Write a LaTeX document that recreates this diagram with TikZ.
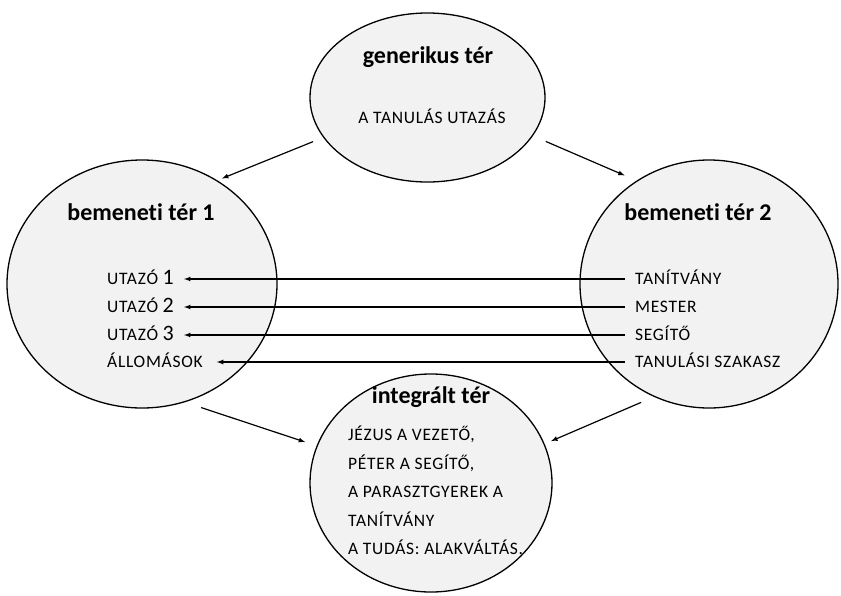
\documentclass[tikz,border=0pt]{standalone}
\usepackage{fontspec}
\setmainfont{Carlito}[Ligatures=NoCommon]
\newfontfamily\capsfont{Carlito}[LetterSpace=4,Ligatures=NoCommon]
\usepackage{tikz}
\usetikzlibrary{shapes.geometric,arrows}
\definecolor{spacegray}{HTML}{F2F2F2}
\newcommand\bignum[1]{{\fontsize{22}{22}\selectfont #1}}

\begin{document}
\begin{tikzpicture}[x=1pt,y=-1pt]
          \useasboundingbox (0,0) rectangle (841,595);
          \tikzset{space/.style={ellipse,draw,line width=1.3pt,fill=spacegray,inner sep=0pt}};
          \tikzset{title/.style={font=\bfseries\fontsize{24}{28}\selectfont,inner sep=0pt}};
          \tikzset{item/.style={font=\capsfont\fontsize{17.5}{20}\selectfont,inner sep=0pt,anchor=west,text height=11pt,text depth=0pt}};
          \tikzset{link/.style={->,>=latex,line width=1.2pt}};

          % spaces
          \node[space,minimum width=235,minimum height=169] (gen) at (427.5,97.5){};
          \node[space,minimum width=270,minimum height=248] (in1) at (142,284){};
          \node[space,minimum width=258,minimum height=248] (in2) at (709,284){};
          \node[space,minimum width=242,minimum height=218] (int) at (431,483){};

          \node[title] (genT) at (428,57){generikus tér};
          \node[title] (in1T) at (141,212){bemeneti tér 1};
          \node[title] (in2T) at (698,212){bemeneti tér 2};
          \node[title] (intT) at (431,397){integrált tér};

          \node[item,anchor=center] (journey) at (432,118){A TANULÁS UTAZÁS};

          % input space 1
          \node[item] (trav1) at (107,279){UTAZÓ \bignum{1}};
          \node[item] (trav2) at (107,307){UTAZÓ \bignum{2}};
          \node[item] (trav3) at (107,335){UTAZÓ \bignum{3}};
          \node[item] (stops) at (107,362){ÁLLOMÁSOK};

          % input space 2
          \node[item] (pupil) at (635,279){TANÍTVÁNY};
          \node[item] (master) at (635,307){MESTER};
          \node[item] (helper) at (635,335){SEGÍTŐ};
          \node[item] (stage) at (635,362){TANULÁSI SZAKASZ};

          % blend
          \node[item] (b1) at (348,435){JÉZUS A VEZETŐ,};
          \node[item] (b2) at (348,464){PÉTER A SEGÍTŐ,};
          \node[item] (b3) at (348,492){A PARASZTGYEREK A};
          \node[item] (b4) at (348,521){TANÍTVÁNY};
          \node[item] (b5) at (348,549){A TUDÁS: ALAKVÁLTÁS.};

          % mappings
          \draw[link,shorten <=10pt,shorten >=10pt] (pupil.west) -- (pupil.west -| trav1.east);
          \draw[link,shorten <=10pt,shorten >=10pt] (master.west) -- (master.west -| trav2.east);
          \draw[link,shorten <=10pt,shorten >=10pt] (helper.west) -- (helper.west -| trav3.east);
          \draw[link,shorten <=10pt,shorten >=14pt] (stage.west) -- (stage.west -| stops.east);

          % projections
          \draw[link,shorten <=11pt,shorten >=5pt] (gen.201) -- (in1.54);
          \draw[link,shorten <=14pt,shorten >=13pt] (gen.340) -- (in2.125);
          \draw[link,shorten <=17pt,shorten >=12pt] (in1.290) -- (int.162);
          \draw[link,shorten <=14pt,shorten >=7pt] (in2.244) -- (int.19);
        \end{tikzpicture}
\end{document}
